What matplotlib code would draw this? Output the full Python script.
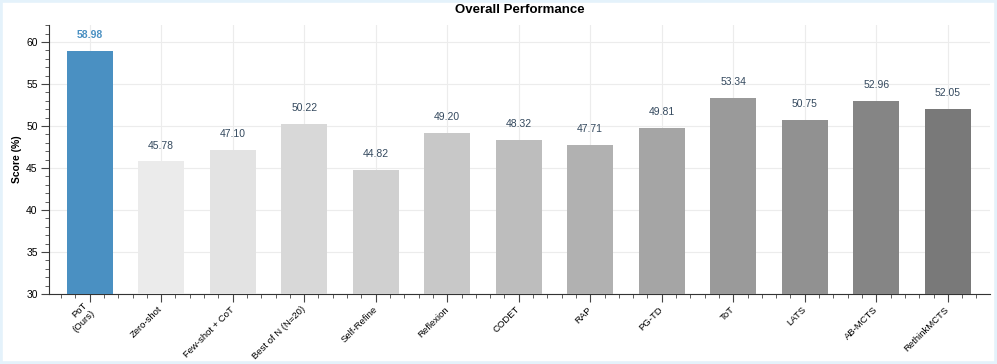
import numpy as np
import matplotlib
matplotlib.use("Agg")
import matplotlib.pyplot as plt
from matplotlib.ticker import MultipleLocator
from matplotlib.patches import Rectangle

plt.rcParams["font.family"] = ["Liberation Sans", "DejaVu Sans"]

methods = ["PoT\n(Ours)", "Zero-shot", "Few-shot + CoT", "Best of N (N=20)", "Self-Refine",
           "Reflexion", "CODET", "RAP", "PG-TD", "ToT", "LATS", "AB-MCTS", "RethinkMCTS"]
scores = [58.98, 45.78, 47.10, 50.22, 44.82, 49.20, 48.32, 47.71, 49.81, 53.34, 50.75, 52.96, 52.05]

ours_color = "#4a90c2"
grays = ["#ebebeb", "#e3e3e3", "#d8d8d8", "#d0d0d0", "#c8c8c8", "#bdbdbd",
         "#b1b1b1", "#a5a5a5", "#9a9a9a", "#919191", "#858585", "#797979"]

fig = plt.figure(figsize=(9.97, 3.64), dpi=100)
fig.patches.append(Rectangle((0, 0), 1, 1, transform=fig.transFigure, fill=False,
                             edgecolor="#e4f2fb", linewidth=4, zorder=10))
ax = fig.add_axes([0.049, 0.192, 0.944, 0.739])

x = np.arange(len(methods))
colors = [ours_color] + grays
ax.bar(x, scores, width=0.64, color=colors, zorder=3)

for i, v in enumerate(scores):
    if i == 0:
        ax.text(i, v + 1.3, f"{v:.2f}", ha="center", va="bottom", fontsize=7.5,
                color=ours_color, fontweight="bold")
    else:
        ax.text(i, v + 1.3, f"{v:.2f}", ha="center", va="bottom", fontsize=7.5,
                color="#34495e")

ax.set_ylim(30, 62)
ax.set_xlim(-0.57, 12.59)
ax.set_xticks(x)
ax.set_xticklabels(methods, rotation=45, ha="right", va="center",
                   rotation_mode="anchor", fontsize=6.8)
ax.xaxis.set_minor_locator(MultipleLocator(0.2))
ax.yaxis.set_major_locator(MultipleLocator(5))
ax.yaxis.set_minor_locator(MultipleLocator(1))
ax.tick_params(axis="both", which="major", length=6, color="#444444")
ax.tick_params(axis="both", which="minor", length=3, color="#444444")
ax.tick_params(axis="x", which="major", pad=4)
ax.tick_params(axis="y", labelsize=7.5, pad=2)
ax.grid(True, color="#ececec", linewidth=0.8, zorder=0)
ax.set_axisbelow(True)
for s in ["top", "right"]:
    ax.spines[s].set_visible(False)
ax.spines["left"].set_color("#333333")
ax.spines["bottom"].set_color("#333333")

ax.set_ylabel("Score (%)", fontsize=7.5, fontweight="bold")
ax.yaxis.set_label_coords(-0.029, 0.5)
ax.set_title("Overall Performance", fontsize=9.5, fontweight="bold", pad=9)

fig.savefig("out.png", dpi=100)
